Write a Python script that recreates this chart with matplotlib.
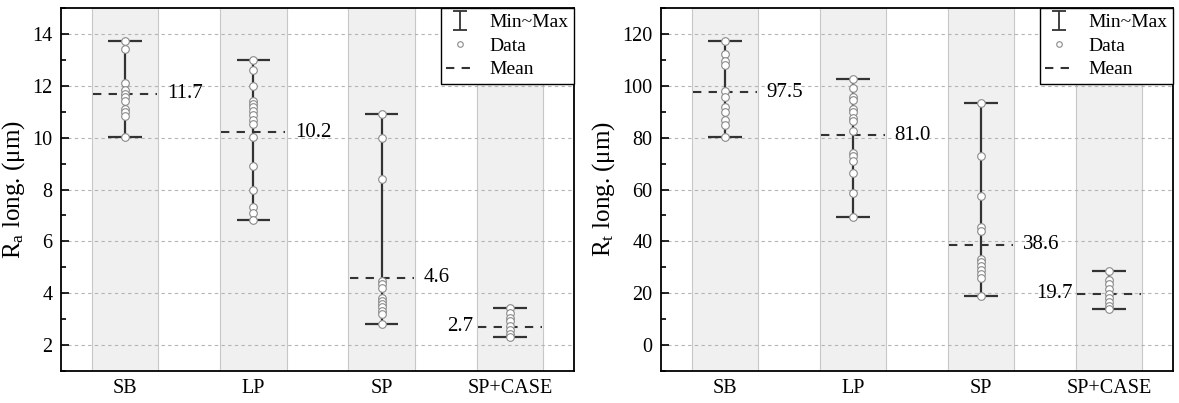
import numpy as np
import matplotlib
matplotlib.use("Agg")
import matplotlib.pyplot as plt
from matplotlib.lines import Line2D

plt.rcParams["font.family"] = ["Liberation Serif", "DejaVu Serif"]
plt.rcParams["mathtext.fontset"] = "custom"
plt.rcParams["mathtext.rm"] = "Liberation Serif"
plt.rcParams["mathtext.it"] = "Liberation Serif:italic"

categories = ["SB", "LP", "SP", "SP+CASE"]

# Ra longitudinal (um)
ra_sb = [13.72, 13.41, 12.10, 11.82, 11.69, 11.56, 11.43, 11.12, 10.98, 10.82, 10.02]
ra_lp = [13.0, 12.6, 12.01, 11.43, 11.3, 11.18, 11.01, 10.86, 10.69, 10.54,
         10.02, 8.91, 8.0, 7.33, 7.08, 6.82]
ra_sp = [10.92, 10.0, 8.41, 4.47, 4.35, 4.22, 3.83, 3.70, 3.58, 3.45, 3.32, 3.19, 2.81]
ra_case = [3.42, 3.23, 3.06, 2.91, 2.75, 2.59, 2.42, 2.31]
ra_means = [11.7, 10.2, 4.6, 2.7]

# Rt longitudinal (um)
rt_sb = [117.4, 112.3, 109.7, 108.2, 98.1, 95.6, 92.0, 89.8, 86.8, 85.0, 80.1]
rt_lp = [102.6, 99.2, 95.6, 94.5, 91.1, 89.8, 87.6, 86.3, 82.7, 74.0, 73.0,
         71.1, 66.2, 58.5, 49.5]
rt_sp = [93.5, 72.8, 57.6, 45.7, 43.9, 33.3, 32.0, 30.5, 28.8, 27.3, 26.0, 19.0]
rt_case = [28.7, 25.2, 23.4, 21.7, 19.8, 18.3, 16.6, 15.2, 14.1]
rt_means = [97.5, 81.0, 38.6, 19.7]

bar_col = "#333333"
pt_col = "#8a8a8a"
mean_dash = (0, (4, 3.5))


def draw_panel(ax, groups, means, ylim, yticks, yminor, ylabel):
    x = np.arange(1, len(categories) + 1)
    for xi in x:
        ax.axvspan(xi - 0.26, xi + 0.26, facecolor="#f0f0f0",
                   edgecolor="#c8c8c8", lw=0.8, zorder=0)
    ax.set_axisbelow(True)
    ax.grid(axis="y", ls=(0, (3, 3)), color="#b4b4b4", lw=0.8)

    for i, (xi, vals, m) in enumerate(zip(x, groups, means)):
        lo, hi = min(vals), max(vals)
        ax.vlines(xi, lo, hi, color=bar_col, lw=1.6, zorder=2)
        ax.hlines([lo, hi], xi - 0.13, xi + 0.13, color=bar_col, lw=1.6, zorder=2)
        ax.hlines(m, xi - 0.25, xi + 0.25, color="#333333", lw=1.5,
                  linestyles=[mean_dash], zorder=3)
        ax.plot(np.full(len(vals), xi), vals, ls="none", marker="o", ms=5.5,
                mfc="white", mec=pt_col, mew=0.8, zorder=4)
        if i < len(x) - 1:
            ax.annotate(f"{m:.1f}", (xi + 0.25, m), xytext=(7, 0),
                        textcoords="offset points", ha="left", va="center",
                        fontsize=15)
        else:
            ax.annotate(f"{m:.1f}", (xi - 0.25, m), xytext=(-3, 0),
                        textcoords="offset points", ha="right", va="center",
                        fontsize=15)

    ax.set_xlim(0.5, 4.5)
    ax.set_ylim(*ylim)
    ax.set_xticks(x)
    ax.set_xticklabels(categories, fontsize=14.5)
    ax.set_yticks(yticks)
    ax.set_yticks(yminor, minor=True)
    ax.tick_params(axis="y", labelsize=14.5)
    ax.tick_params(axis="y", which="major", direction="in", length=6, width=1.2, pad=6)
    ax.tick_params(axis="y", which="minor", direction="in", length=3.5, width=1.2)
    ax.tick_params(axis="x", length=0, pad=6)
    ax.set_ylabel(ylabel, fontsize=18, labelpad=4)
    for s in ax.spines.values():
        s.set_linewidth(1.3)
        s.set_color("black")

    eb = ax.errorbar([np.nan], [np.nan], yerr=[1.0], fmt="none", ecolor=bar_col,
                     elinewidth=1.3, capsize=5, capthick=1.3)
    data_h = Line2D([], [], ls="none", marker="o", ms=4, mfc="white",
                    mec=pt_col, mew=0.8)
    mean_h = Line2D([], [], ls=mean_dash, color="#333333", lw=1.5)
    leg = ax.legend([eb, data_h, mean_h], ["Min~Max", "Data", "Mean"],
                    loc="upper right", borderaxespad=0, fancybox=False,
                    edgecolor="black", framealpha=1, fontsize=14,
                    handlelength=1.4, handletextpad=0.8, labelspacing=0.3,
                    borderpad=0.3)
    leg.get_frame().set_linewidth(1.0)


fig = plt.figure(figsize=(11.79, 4.03), dpi=100)
ax1 = fig.add_axes([0.0517, 0.0794, 0.4352, 0.9007])
ax2 = fig.add_axes([0.5606, 0.0794, 0.4343, 0.9007])

draw_panel(ax1, [ra_sb, ra_lp, ra_sp, ra_case], ra_means, (1, 15),
           np.arange(2, 15, 2), np.arange(1, 16, 2), r"R$_\mathrm{a}$ long. (μm)")
draw_panel(ax2, [rt_sb, rt_lp, rt_sp, rt_case], rt_means, (-10, 130),
           np.arange(0, 121, 20), np.arange(-10, 131, 20), r"R$_\mathrm{t}$ long. (μm)")

fig.savefig("out.png", dpi=100)
